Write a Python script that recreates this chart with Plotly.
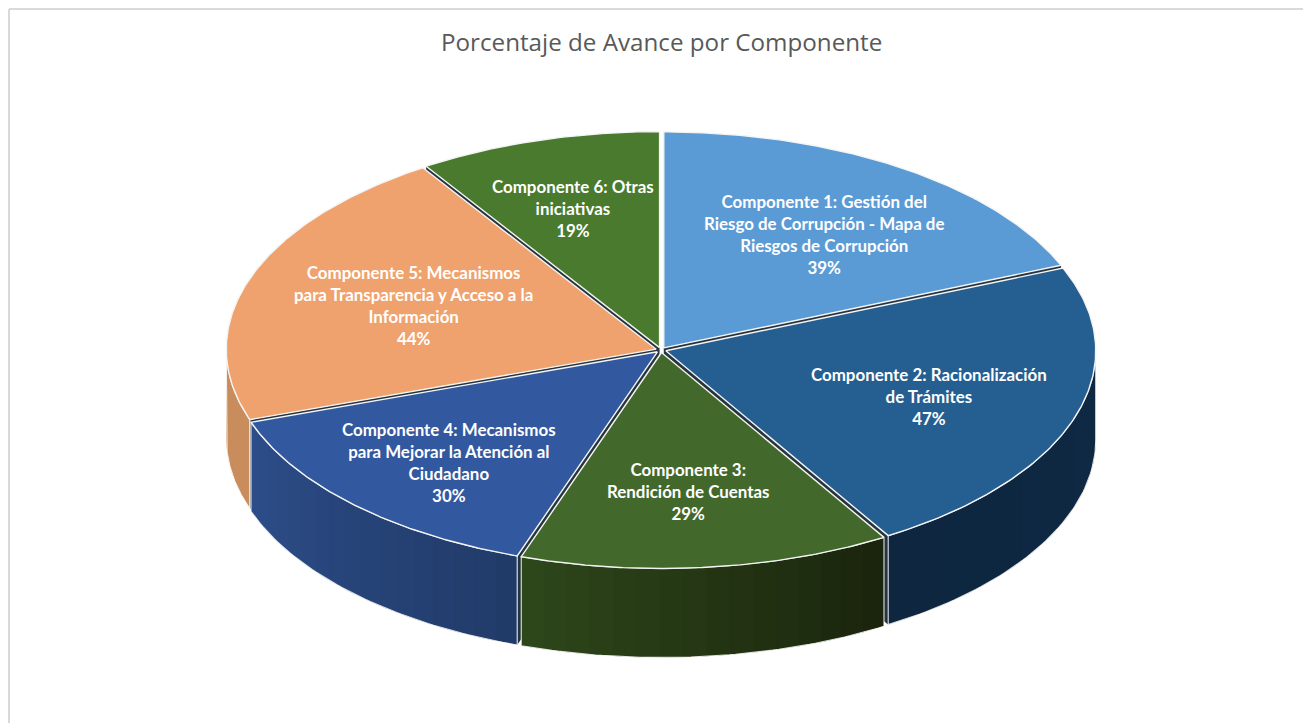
import numpy as np
import plotly.graph_objects as go

# ---- data ----
COMPONENT_NAMES = [
    "Componente 1: Gestión del<br>Riesgo de Corrupción - Mapa de<br>Riesgos de Corrupción",
    "Componente 2: Racionalización<br>de Trámites",
    "Componente 3:<br>Rendición de Cuentas",
    "Componente 4: Mecanismos<br>para Mejorar la Atención al<br>Ciudadano",
    "Componente 5: Mecanismos<br>para Transparencia y Acceso a la<br>Información",
    "Componente 6: Otras<br>iniciativas",
]
PERCENTAGES = [39, 47, 29, 30, 44, 19]
TITLE = "Porcentaje de Avance por Componente"

# ---- styles ----
TOP_COLORS = ["#5B9BD5", "#255E91", "#43682B", "#32599F", "#F0A26E", "#4A7A2E"]
# wall shade at the start and at the end of each slice's arc (clockwise)
WALL_START = ["#12304F", "#0F2A45", "#1A240D", "#213A68", "#C98C5C", "#2C4519"]
WALL_END = ["#12304F", "#0E2640", "#2E471A", "#2D4E8A", "#C98C5C", "#2C4519"]
LABEL_XY = [(824, 234), (929, 396), (688, 491), (449, 462), (413, 305), (573, 208)]
CX, CY, RX, RY, DEPTH, EXPLODE = 661, 350, 430, 216, 89, 5
FONT = "Lato"


def hex2rgb(c):
    return np.array([int(c[i:i + 2], 16) for i in (1, 3, 5)], float)


def mix(a, b, f):
    r = hex2rgb(a) * (1 - f) + hex2rgb(b) * f
    return "rgb(%d,%d,%d)" % tuple(r.round())


def px(t, ox, oy, dz=0.0):
    return CX + ox + RX * np.sin(t), CY + oy - RY * np.cos(t) + dz


vals = np.array(PERCENTAGES, float)
edges = np.radians(np.concatenate([[0], np.cumsum(vals)]) / vals.sum() * 360)
mids = (edges[:-1] + edges[1:]) / 2
order = np.argsort(-np.cos(mids))

fig = go.Figure()


def poly(x, y, fill, line=None, width=0.0):
    fig.add_trace(go.Scatter(
        x=list(x), y=list(y), mode="lines", fill="toself", fillcolor=fill,
        line=dict(color=line or fill, width=width),
        hoverinfo="skip", showlegend=False))


for i in order:
    a0, a1 = edges[i], edges[i + 1]
    ox, oy = EXPLODE * np.sin(mids[i]), -EXPLODE * RY / RX * np.cos(mids[i])
    cx, cy = CX + ox, CY + oy
    # radial inner walls
    for a in (a0, a1):
        xt, yt = px(a, ox, oy)
        xb, yb = px(a, ox, oy, DEPTH)
        poly([cx, xt, xb, cx, cx], [cy, yt, yb, cy + DEPTH, cy], "#26343E")
    # outer wall (front half only); each strip runs on under the next, so no seams show
    lo, hi = max(a0, np.pi / 2), min(a1, 3 * np.pi / 2)
    if hi > lo:
        n = max(2, int(np.degrees(hi - lo) / 3))
        grid = np.linspace(lo, hi, n + 1)
        for k in range(n):
            ts = np.linspace(grid[k], grid[min(k + 2, n)], 7)
            xt, yt = px(ts, ox, oy)
            xb, yb = px(ts[::-1], ox, oy, DEPTH)
            f = ((grid[k] + grid[k + 1]) / 2 - a0) / (a1 - a0)
            poly(np.r_[xt, xb, xt[0]], np.r_[yt, yb, yt[0]], mix(WALL_START[i], WALL_END[i], f))
        ts = np.linspace(lo, hi, 60)
        xt, yt = px(ts, ox, oy)
        xb, yb = px(ts[::-1], ox, oy, DEPTH)
        fig.add_trace(go.Scatter(
            x=np.r_[xt, xb, xt[0]], y=np.r_[yt, yb, yt[0]], mode="lines",
            line=dict(color="rgba(255,255,255,0.85)", width=1.1),
            hoverinfo="skip", showlegend=False))
    # top face
    ts = np.linspace(a0, a1, 120)
    xt, yt = px(ts, ox, oy)
    poly(np.r_[cx, xt, cx], np.r_[cy, yt, cy], TOP_COLORS[i], "#F4F4F4", 1.4)

annotations = []
for name, pct, (lx, ly) in zip(COMPONENT_NAMES, PERCENTAGES, LABEL_XY):
    annotations.append(dict(
        x=lx, y=ly, xref="x", yref="y", showarrow=False, align="center",
        text=f"<b>{name}<br>{pct}%</b>",
        font=dict(family=FONT, size=16.9, color="white")))
annotations.append(dict(
    x=661, y=41.5, xref="x", yref="y", showarrow=False, text=TITLE,
    font=dict(family="Open Sans", size=24.2, color="#595959")))

frame = [
    dict(type="line", xref="x", yref="y", x0=9, x1=1303, y0=9, y1=9,
         line=dict(color="#D9D9D9", width=2)),
    dict(type="line", xref="x", yref="y", x0=9, x1=9, y0=9, y1=723,
         line=dict(color="#D9D9D9", width=2)),
]

fig.update_layout(
    width=1303, height=723, margin=dict(l=0, r=0, t=0, b=0),
    paper_bgcolor="white", plot_bgcolor="white", showlegend=False,
    xaxis=dict(range=[0, 1303], visible=False, fixedrange=True),
    yaxis=dict(range=[723, 0], visible=False, fixedrange=True),
    annotations=annotations, shapes=frame,
)
fig.write_html("out.html", config={"displayModeBar": False},
               post_script="document.body.style.margin='0';document.body.style.overflow='hidden';")
